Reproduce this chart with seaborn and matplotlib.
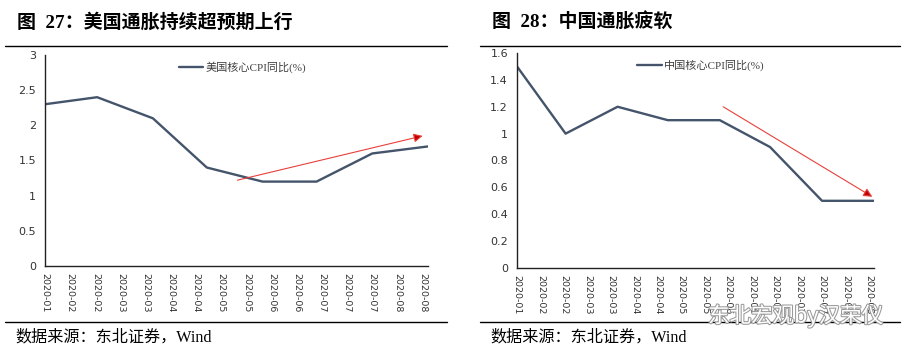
import pandas as pd
import matplotlib.pyplot as plt
import matplotlib.dates as mdates
import matplotlib.patheffects as pe
from matplotlib.lines import Line2D
import seaborn as sns

# month-end observations
months = ['2020-01-31', '2020-02-29', '2020-03-31', '2020-04-30',
          '2020-05-31', '2020-06-30', '2020-07-31', '2020-08-31']
us_core_cpi = [2.3, 2.4, 2.1, 1.4, 1.2, 1.2, 1.6, 1.7]
cn_core_cpi = [1.5, 1.0, 1.2, 1.1, 1.1, 0.9, 0.5, 0.5]

us_label = '美国核心CPI同比(%)'
cn_label = '中国核心CPI同比(%)'
us_title = '图  27：美国通胀持续超预期上行'
cn_title = '图  28：中国通胀疲软'
source = '数据来源：东北证券，Wind'

# trend arrows (start, end) in data terms
us_arrow = (('2020-05-17', 1.22), ('2020-08-28', 1.85))
cn_arrow = (('2020-06-02', 1.20), ('2020-08-30', 0.53))

sns.set_style('white')
plt.rcParams['font.family'] = ['DejaVu Sans', 'Noto Sans CJK SC']
serif_cjk = ['Liberation Serif', 'Noto Sans CJK SC']

W, H = 917, 362
fig = plt.figure(figsize=(W / 100, H / 100), dpi=100)

line_color = '#44546A'
tick_dates = pd.date_range('2020-01-31', periods=16, freq='14D')


def panel(rect, values, label, ylim, ystep, arrow):
    ax = fig.add_axes([rect[0] / W, 1 - rect[3] / H,
                       (rect[2] - rect[0]) / W, (rect[3] - rect[1]) / H])
    df = pd.DataFrame({'date': pd.to_datetime(months), 'value': values})
    sns.lineplot(data=df, x='date', y='value', ax=ax, color=line_color,
                 linewidth=1.7, label=label)
    ax.set_xlim(pd.Timestamp(months[0]), pd.Timestamp(months[-1]))
    ax.set_ylim(*ylim)
    yt = [round(ylim[0] + i * ystep, 2) for i in range(int(round((ylim[1] - ylim[0]) / ystep)) + 1)]
    ax.set_yticks(yt)
    ax.set_yticklabels([f'{v:g}' for v in yt])
    ax.set_xticks(tick_dates)
    ax.xaxis.set_major_formatter(mdates.DateFormatter('%Y-%m'))
    ax.set_xlabel('')
    ax.set_ylabel('')
    for s in ['top', 'right']:
        ax.spines[s].set_visible(False)
    for s in ['left', 'bottom']:
        ax.spines[s].set_color('#222222')
        ax.spines[s].set_linewidth(1.0)
    ax.tick_params(axis='both', direction='out', length=3, width=0.8,
                   colors='#222222', labelcolor='#333333')
    ax.tick_params(axis='y', labelsize=8)
    ax.tick_params(axis='x', labelsize=6.8, rotation=-90, pad=2)
    (s0, v0), (s1, v1) = arrow
    ax.annotate('', xy=(pd.Timestamp(s1), v1), xytext=(pd.Timestamp(s0), v0),
                arrowprops=dict(arrowstyle='-|>', color='#E8403A', lw=0.8,
                                mutation_scale=13, shrinkA=0, shrinkB=0,
                                fc='#C00000'))
    leg = ax.legend(loc='upper center', bbox_to_anchor=(0.515, 0.99), frameon=False,
                    handlelength=2.2, handletextpad=0.2, borderaxespad=0,
                    prop={'family': serif_cjk, 'size': 8})
    for t in leg.get_texts():
        t.set_color('#404040')
    return ax


panel((45, 55, 428, 266), us_core_cpi, us_label, (0, 3), 0.5, us_arrow)
panel((517, 53, 874, 268), cn_core_cpi, cn_label, (0, 1.6), 0.2, cn_arrow)

# titles, rules, source lines
for x0, x1, tx, title in [(5, 447, 17, us_title), (480, 900, 492, cn_title)]:
    fig.text(tx / W, 1 - 22 / H, title, fontsize=13.7, fontweight='bold',
             family=serif_cjk, va='center', ha='left', color='black')
    fig.add_artist(Line2D([x0 / W, x1 / W], [1 - 46 / H] * 2, color='black', lw=1))
    fig.add_artist(Line2D([x0 / W, x1 / W], [1 - 322 / H] * 2, color='black', lw=1))
    fig.text((tx - 2) / W, 1 - 337 / H, source, fontsize=11.6, family=serif_cjk,
             va='center', ha='left', color='black')

# watermark
fig.text(708 / W, 1 - 316 / H, '东北宏观by汉荣仪', fontsize=15.5, family=['Noto Sans CJK SC'],
         va='center', ha='left', color='white',
         path_effects=[pe.withStroke(linewidth=1.5, foreground='#9a9a9a')])

fig.savefig('out.png', dpi=100)
